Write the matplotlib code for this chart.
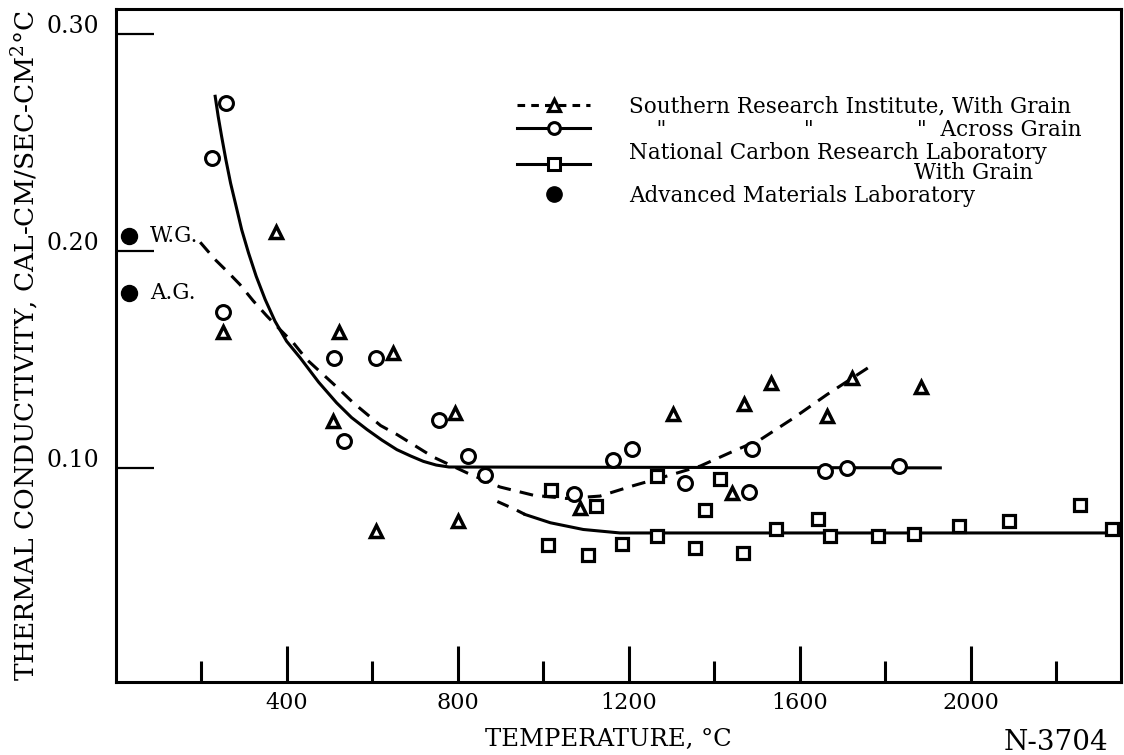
import matplotlib
matplotlib.use("Agg")
import matplotlib.pyplot as plt
from matplotlib.lines import Line2D
from matplotlib.transforms import ScaledTranslation

plt.rcParams['font.family'] = ['DejaVu Serif']
plt.rcParams['mathtext.fontset'] = 'dejavuserif'

# ---- data ----
# Southern Research Institute, With Grain (triangles)
sri_wg_x = [251, 375, 509, 523, 609, 648, 793, 801, 1087, 1303, 1442, 1470, 1533, 1665, 1723, 1883]
sri_wg_y = [0.1625, 0.2086, 0.1215, 0.1625, 0.0708, 0.153, 0.1253, 0.0757, 0.0813, 0.1249,
            0.0883, 0.1293, 0.1393, 0.1240, 0.1415, 0.1373]
# Southern Research Institute, Across Grain (circles)
sri_ag_x = [225, 258, 251, 510, 534, 609, 757, 824, 864, 1073, 1163, 1207, 1333, 1482, 1489, 1659, 1710, 1832]
sri_ag_y = [0.243, 0.268, 0.172, 0.1505, 0.1123, 0.1505, 0.1223, 0.1057, 0.0965, 0.0879,
            0.1038, 0.1088, 0.0931, 0.0888, 0.1088, 0.0986, 0.100, 0.101]
# National Carbon Research Laboratory, With Grain (squares)
ncrl_x = [1012, 1019, 1106, 1124, 1184, 1266, 1266, 1356, 1379, 1413, 1467, 1544, 1643, 1672,
          1783, 1868, 1973, 2090, 2256, 2331]
ncrl_y = [0.0645, 0.090, 0.0597, 0.0823, 0.0647, 0.0687, 0.0964, 0.063, 0.0807, 0.0951, 0.0607,
          0.0718, 0.0763, 0.0688, 0.0688, 0.0693, 0.0733, 0.0754, 0.083, 0.0718]
# Advanced Materials Laboratory (filled circles)
aml_x = [32, 32]
aml_y = [0.207, 0.1806]
aml_labels = ["W.G.", "A.G."]

# faired curves
wg_curve_x = [198, 233, 264, 291, 322, 354, 385, 416, 447, 519, 556, 620, 658, 743, 822, 899,
              977, 1055, 1133, 1211, 1289, 1367, 1445, 1508, 1586, 1664, 1769]
wg_curve_y = [0.204, 0.196, 0.190, 0.1845, 0.177, 0.170, 0.1637, 0.1576, 0.150, 0.137, 0.130,
              0.1195, 0.1154, 0.105, 0.0977, 0.0912, 0.0874, 0.0859, 0.087, 0.0918, 0.0962,
              0.1008, 0.1077, 0.113, 0.123, 0.1338, 0.1473]
ag_curve_x = [233, 240, 248, 258, 269, 282, 295, 311, 329, 350, 373, 400, 432, 475, 517, 552,
              588, 623, 658, 690, 720, 750, 780, 1929]
ag_curve_y = [0.2713, 0.2621, 0.2529, 0.2421, 0.2313, 0.2206, 0.2098, 0.1991, 0.1883, 0.1776,
              0.1676, 0.1584, 0.1507, 0.1395, 0.130, 0.1232, 0.1177, 0.1128, 0.1084, 0.1055,
              0.1030, 0.1013, 0.1004, 0.100]
ncrl_dash_x = [893, 935, 958]
ncrl_dash_y = [0.0845, 0.0808, 0.0785]
ncrl_curve_x = [958, 1017, 1094, 1180, 2351]
ncrl_curve_y = [0.0785, 0.0747, 0.0716, 0.0700, 0.0700]

x_major = [400, 800, 1200, 1600, 2000]
x_minor = [200, 600, 1000, 1400, 1800, 2200]
y_ticks = [0.10, 0.20, 0.30]
y_ticklabels = ["0.10", "0.20", "0.30"]

legend_labels = [
    "Southern Research Institute, With Grain",
    '    "                    "               "  Across Grain',
    "National Carbon Research Laboratory\nWith Grain  ",
    "Advanced Materials Laboratory",
]

# ---- figure ----
fig = plt.figure(figsize=(11.24, 7.55), dpi=100)
ax = fig.add_axes([0.1028, 0.0967, 0.8943, 0.8910])
ax.set_xlim(0, 2351)
ax.set_ylim(0.0013, 0.3114)

LW = 2.2
dash = (0, (4.5, 3))

ax.plot(wg_curve_x, wg_curve_y, color='k', lw=LW, ls=dash, zorder=2)
ax.plot(ag_curve_x, ag_curve_y, color='k', lw=LW, ls='-', zorder=2)
ax.plot(ncrl_dash_x, ncrl_dash_y, color='k', lw=LW, ls=(0, (4, 3)), zorder=2)
ax.plot(ncrl_curve_x, ncrl_curve_y, color='k', lw=LW, ls='-', zorder=2)

mk = dict(ls='none', mfc='white', mec='k', zorder=3, clip_on=False)
ax.plot(sri_wg_x, sri_wg_y, marker='^', ms=9, mew=2.5, **mk)
ax.plot(sri_ag_x, sri_ag_y, marker='o', ms=10, mew=2.2, **mk)
ax.plot(ncrl_x, ncrl_y, marker='s', ms=8.5, mew=2.3, **mk)
ax.plot(aml_x, aml_y, ls='none', marker='o', ms=11.5, color='k', zorder=3, clip_on=False)
for x, y, lab in zip(aml_x, aml_y, aml_labels):
    ax.annotate(lab, (x, y), xytext=(15, 0), textcoords='offset points',
                va='center', ha='left', fontsize=15.5)

# ticks
ax.set_xticks(x_major)
ax.set_xticks(x_minor, minor=True)
ax.set_yticks(y_ticks)
ax.set_yticklabels(y_ticklabels)
ax.tick_params(axis='x', which='major', direction='in', length=26, width=2.2,
               labelsize=16, pad=7)
ax.tick_params(axis='x', which='minor', direction='in', length=15, width=2.2)
ax.tick_params(axis='y', which='major', direction='in', length=27, width=1.6,
               labelsize=17, pad=12)
for t in ax.yaxis.get_major_ticks():
    t.label1.set_transform(t.label1.get_transform() +
                           ScaledTranslation(0, 7 / 72, fig.dpi_scale_trans))

for s in ax.spines.values():
    s.set_linewidth(2.2)

ax.set_xlabel("TEMPERATURE, °C", fontsize=17.5)
ax.xaxis.set_label_coords(0.49, -0.068)
ax.set_ylabel("THERMAL CONDUCTIVITY, CAL-CM/SEC-CM$^{2}$°C", fontsize=19)
ax.yaxis.set_label_coords(-0.074, 0.5)

fig.text(0.986, 0.0159, "N-3704", ha='right', va='center', fontsize=20)

# legend
h1 = Line2D([], [], color='k', lw=LW, ls=(0, (2.5, 2)), marker='^', ms=8, mfc='white', mec='k', mew=2.3)
h2 = Line2D([], [], color='k', lw=LW, ls='-', marker='o', ms=8.5, mfc='white', mec='k', mew=2.2)
h3 = Line2D([], [], color='k', lw=LW, ls='-', marker='s', ms=8, mfc='white', mec='k', mew=2.2)
h4 = Line2D([], [], ls='none', marker='o', ms=11, color='k')
leg = ax.legend([h1, h2, h3, h4], legend_labels, loc='upper left',
                bbox_to_anchor=(0.3994, 0.8712), frameon=False, fontsize=15.5,
                handlelength=3.4, handletextpad=1.8, labelspacing=0.04,
                borderpad=0, borderaxespad=0, numpoints=1)
txts = leg.get_texts()
txts[2].set_multialignment('right')
txts[2].set_linespacing(0.9)

fig.savefig("out.png", dpi=100)
